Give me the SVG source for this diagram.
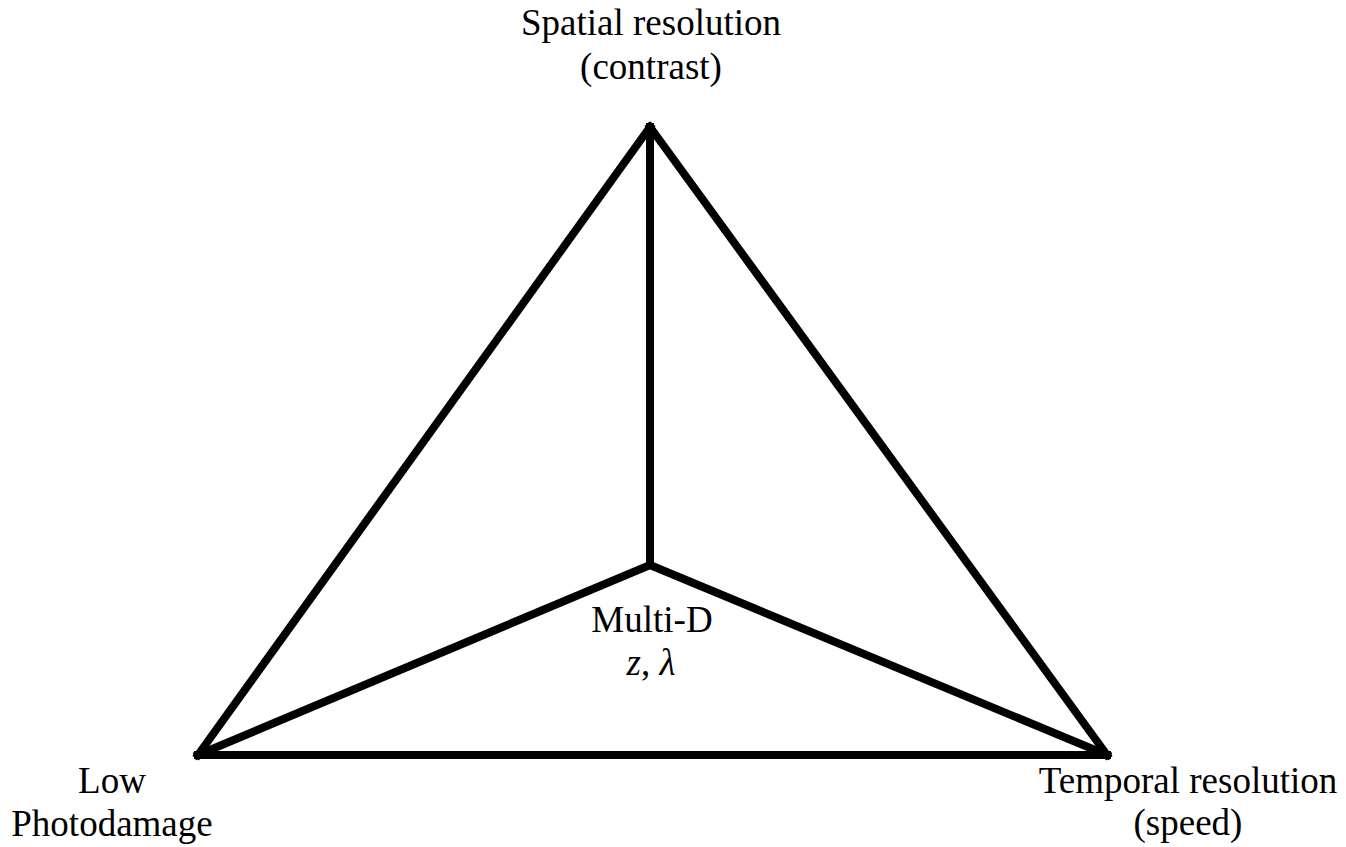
<svg xmlns="http://www.w3.org/2000/svg" width="1346" height="847" viewBox="0 0 1346 847">
<style>
text{font-family:"Liberation Serif","Times New Roman",serif;font-size:37px;fill:#000;text-anchor:middle}
.e{stroke:#000;stroke-width:8;fill:none;stroke-linecap:square;stroke-linejoin:miter}
</style>
<rect width="1346" height="847" fill="#fff"/>
<g id="connectors">
<line class="e" x1="650" y1="127" x2="198" y2="755"/>
<line class="e" x1="650" y1="127" x2="1107" y2="755"/>
<line class="e" x1="198" y1="755" x2="1107" y2="755"/>
<line class="e" x1="650" y1="127" x2="650" y2="565"/>
<line class="e" x1="650" y1="565" x2="198" y2="755"/>
<line class="e" x1="650" y1="565" x2="1107" y2="755"/>
</g>
<g id="node-spatial"><text x="651" y="35">Spatial resolution</text><text x="651" y="79">(contrast)</text></g>
<g id="node-multid"><text x="652" y="632">Multi-D</text><text x="651" y="675"><tspan font-style="italic">z</tspan>, <tspan font-style="italic">λ</tspan></text></g>
<g id="node-low"><text x="112" y="793">Low</text><text x="112" y="836">Photodamage</text></g>
<g id="node-temporal"><text x="1188" y="793">Temporal resolution</text><text x="1188" y="835">(speed)</text></g>
</svg>
